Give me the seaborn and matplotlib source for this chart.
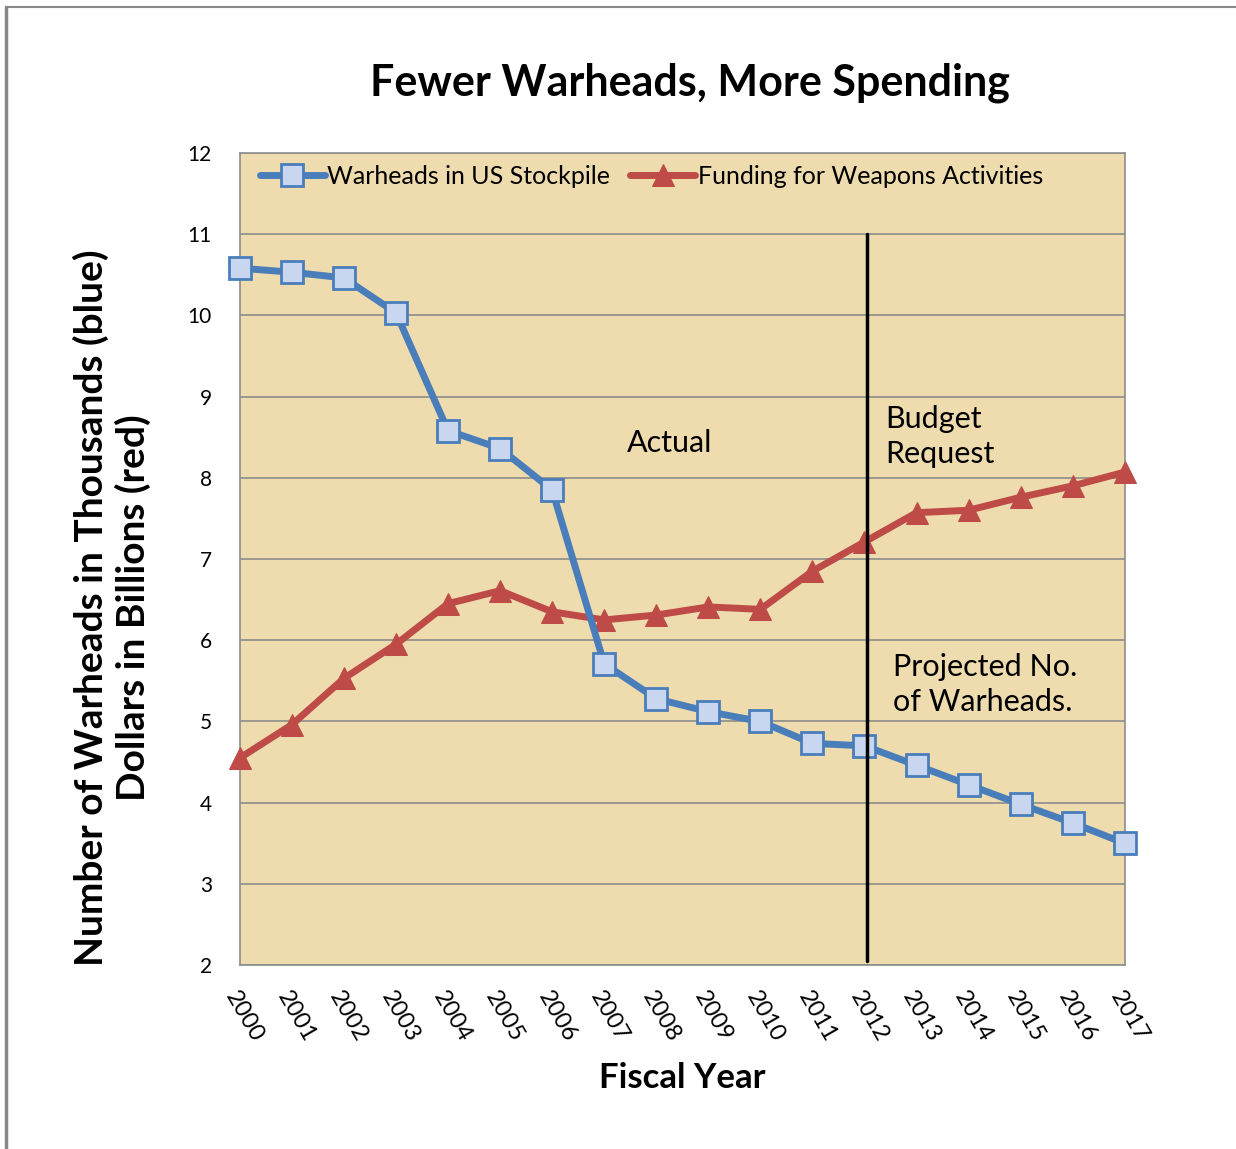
import pandas as pd
import seaborn as sns
import matplotlib.pyplot as plt

# data
years = list(range(2000, 2018))
warheads = [10.58, 10.53, 10.46, 10.03, 8.58, 8.36, 7.85, 5.71, 5.28,
            5.12, 5.00, 4.73, 4.70, 4.46, 4.22, 3.98, 3.75, 3.50]
funding = [4.55, 4.96, 5.53, 5.95, 6.45, 6.61, 6.35, 6.25, 6.31,
           6.41, 6.38, 6.85, 7.21, 7.57, 7.60, 7.76, 7.90, 8.07]
series_names = ["Warheads in US Stockpile", "Funding for Weapons Activities"]
yticks = list(range(2, 13))

df = pd.DataFrame({
    "year": years * 2,
    "value": warheads + funding,
    "series": [series_names[0]] * len(years) + [series_names[1]] * len(years),
})

sns.set_style("white")
plt.rcParams["font.family"] = ["Lato", "DejaVu Sans"]
plt.rcParams["text.color"] = "black"
plt.rcParams["axes.labelcolor"] = "black"
plt.rcParams["xtick.color"] = "black"
plt.rcParams["ytick.color"] = "black"

fig = plt.figure(figsize=(12.36, 11.49), dpi=100)
ax = fig.add_axes([0.194, 0.160, 0.716, 0.707])
ax.set_facecolor("#eedcae")

# outer frame lines (left and top)
fig.add_artist(plt.Line2D([0.005, 0.005], [0.0, 0.994], color="#888888", lw=2.5))
fig.add_artist(plt.Line2D([0.005, 1.0], [0.994, 0.994], color="#888888", lw=1.5))

blue = "#4a7ebb"
red = "#be4b48"

sns.lineplot(data=df[df["series"] == series_names[0]], x="year", y="value",
             color=blue, lw=5, marker="s", markersize=16,
             markerfacecolor="#c8d6ef", markeredgecolor=blue, markeredgewidth=2,
             label=series_names[0], ax=ax, clip_on=False, zorder=4)
sns.lineplot(data=df[df["series"] == series_names[1]], x="year", y="value",
             color=red, lw=5, marker="^", markersize=16,
             markerfacecolor=red, markeredgecolor=red,
             label=series_names[1], ax=ax, clip_on=False, zorder=3)

ax.set_xlim(years[0], years[-1])
ax.set_ylim(yticks[0], yticks[-1])
ax.set_yticks(yticks)
ax.set_xticks(years)
ax.set_xticklabels([str(y) for y in years], rotation=-60, ha="left",
                   rotation_mode="anchor", fontsize=17)
ax.tick_params(axis="y", labelsize=15, length=0, pad=20)
ax.tick_params(axis="x", direction="in", length=6, color="#888888", pad=16)
ax.yaxis.grid(True, color="#8c8c8c", lw=1.2)
ax.xaxis.grid(False)
for s in ax.spines.values():
    s.set_color("#8c8c8c")
    s.set_linewidth(1.2)

# divider between actual and requested
ax.plot([2012.05, 2012.05], [2.05, 11.0], color="black", lw=2.5, zorder=5)

ax.text(2008.26, 8.43, "Actual", fontsize=22, ha="center", va="center")
ax.text(2012.39, 8.51, "Budget\nRequest", fontsize=22, ha="left", va="center",
        linespacing=1.3)
ax.text(2012.54, 5.45, "Projected No.\nof Warheads.", fontsize=22, ha="left",
        va="center", linespacing=1.3)

ax.legend(loc="upper left", bbox_to_anchor=(0.0, 1.01), ncol=2, frameon=False,
          fontsize=18, handlelength=2.6, handletextpad=0.1, columnspacing=0.8,
          borderaxespad=0.4)

ax.set_xlabel("Fiscal Year", fontsize=25, fontweight="bold", labelpad=12)
ax.set_ylabel("Number of Warheads in Thousands (blue)\nDollars in Billions (red)",
              fontsize=28, fontweight="bold", linespacing=1.2)
ax.yaxis.set_label_coords(-0.10, 0.44)
fig.text(0.558, 0.928, "Fewer Warheads, More Spending", fontsize=31,
         fontweight="bold", ha="center", va="center")

fig.savefig("out.png", dpi=100, facecolor="white")
